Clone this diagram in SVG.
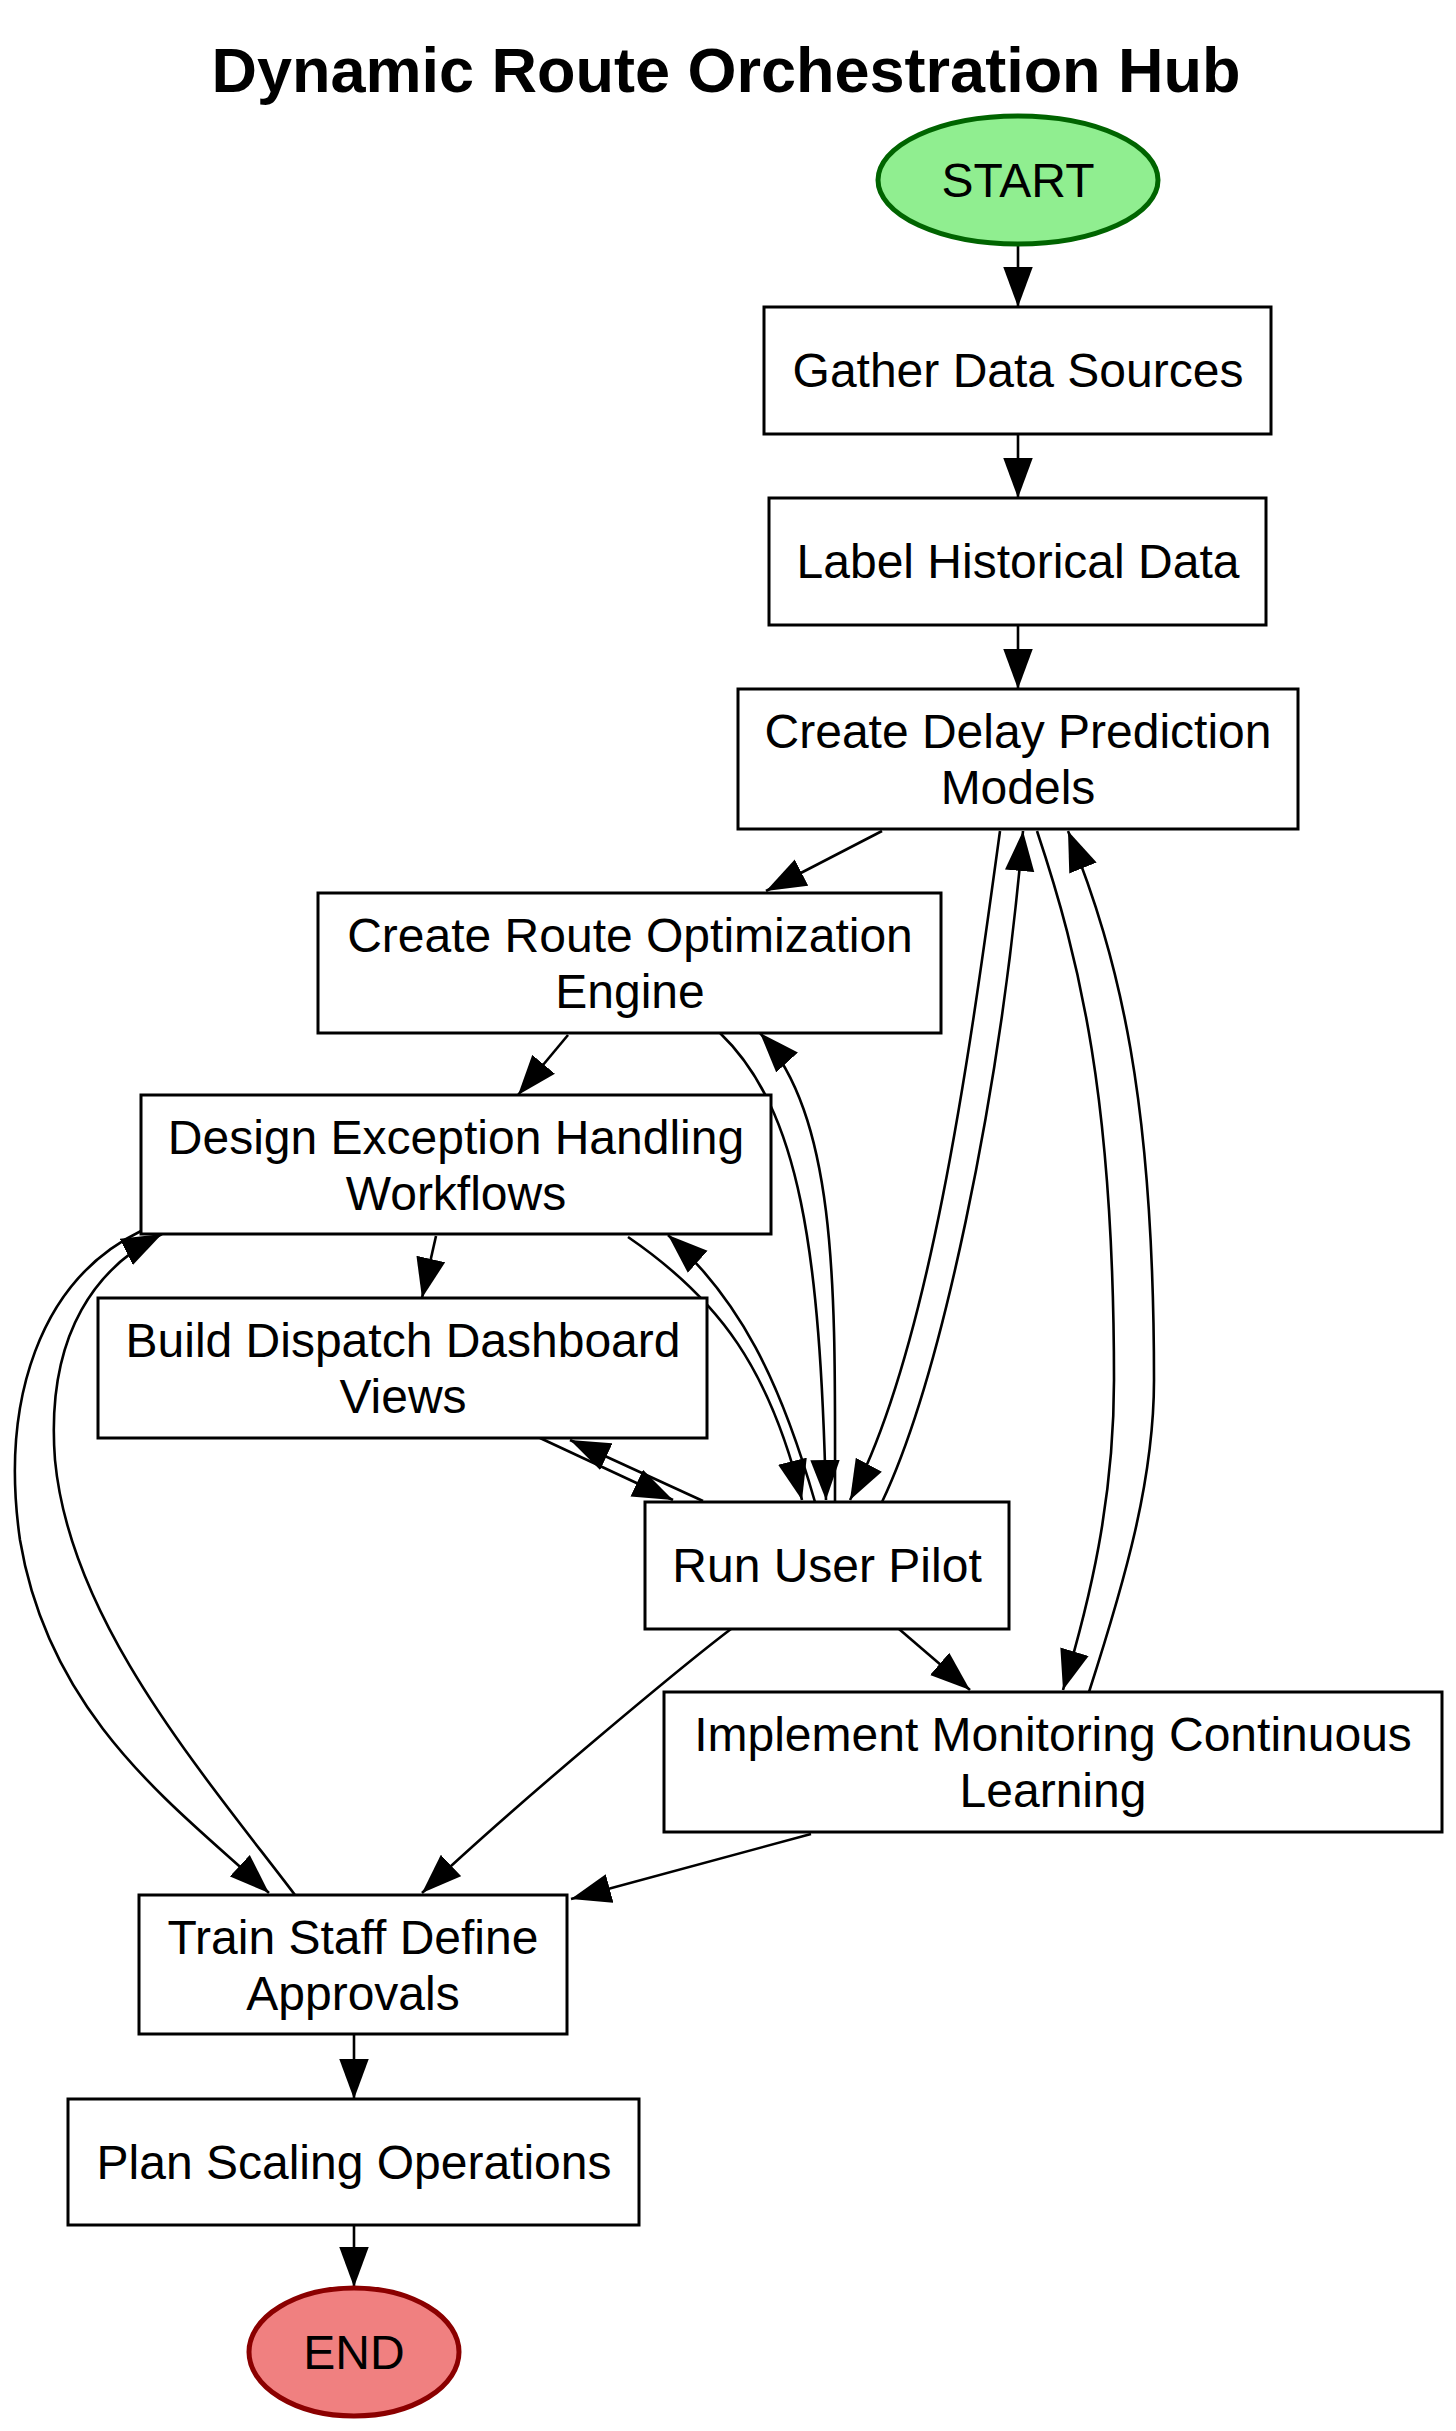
<svg xmlns="http://www.w3.org/2000/svg" width="1456" height="2431" viewBox="0 0 1456 2431">
<style>
.box{fill:#fff;stroke:#000;stroke-width:3}
.t{font-family:"Liberation Sans",Arial,sans-serif;font-size:48px;text-anchor:middle;fill:#000}
.e{fill:none;stroke:#000;stroke-width:2.6;marker-end:url(#a)}
</style>
<defs>
<marker id="a" markerUnits="userSpaceOnUse" markerWidth="40" markerHeight="30" viewBox="0 0 38 28" refX="38" refY="14" orient="auto">
<path d="M0,0 L38,14 L0,28 Z" fill="#000"/>
</marker>
</defs>
<rect width="1456" height="2431" fill="#fff"/>
<text x="726" y="92" style="font-family:'Liberation Sans',Arial,sans-serif;font-size:63px;font-weight:bold;text-anchor:middle">Dynamic Route Orchestration Hub</text>
<g id="edges">
<path class="e" d="M1018,245 L1018,307"/>
<path class="e" d="M1018,434 L1018,498"/>
<path class="e" d="M1018,625 L1018,689"/>
<path class="e" d="M882,831 L766,891"/>
<path class="e" d="M568,1035 L518,1095"/>
<path class="e" d="M436,1236 L422,1298"/>
<path class="e" d="M141,1231 C40,1280 0,1400 20,1540 C50,1720 180,1810 269,1893"/>
<path class="e" d="M295,1895 C200,1770 70,1620 55,1460 C45,1330 100,1265 162,1234"/>
<path class="e" d="M720,1033 C800,1110 820,1250 826,1500"/>
<path class="e" d="M835,1502 C835,1300 840,1120 760,1033"/>
<path class="e" d="M1000,831 C970,1050 930,1350 850,1500"/>
<path class="e" d="M882,1502 C940,1380 1000,1100 1023,831"/>
<path class="e" d="M1037,831 C1080,960 1114,1100 1114,1380 C1114,1500 1090,1600 1063,1690"/>
<path class="e" d="M1089,1692 C1125,1580 1154,1480 1154,1380 C1154,1100 1120,960 1068,831"/>
<path class="e" d="M628,1237 C720,1300 770,1370 802,1500"/>
<path class="e" d="M815,1502 C780,1380 740,1300 668,1235"/>
<path class="e" d="M540,1438 L673,1500"/>
<path class="e" d="M703,1501 L570,1440"/>
<path class="e" d="M899,1629 L970,1690"/>
<path class="e" d="M731,1629 C690,1660 520,1800 422,1893"/>
<path class="e" d="M811,1834 L571,1899"/>
<path class="e" d="M354,2034 L354,2099"/>
<path class="e" d="M354,2225 L354,2287"/>
</g>
<g id="start"><ellipse cx="1018" cy="180" rx="140" ry="64" fill="#90ee90" stroke="#006400" stroke-width="5"/><text class="t" x="1018" y="197">START</text></g>
<g id="gather"><rect class="box" x="764" y="307" width="507" height="127"/><text class="t" x="1018" y="387">Gather Data Sources</text></g>
<g id="label"><rect class="box" x="769" y="498" width="497" height="127"/><text class="t" x="1018" y="578">Label Historical Data</text></g>
<g id="delay"><rect class="box" x="738" y="689" width="560" height="140"/><text class="t" x="1018" y="748">Create Delay Prediction</text><text class="t" x="1018" y="804">Models</text></g>
<g id="route"><rect class="box" x="318" y="893" width="623" height="140"/><text class="t" x="630" y="952">Create Route Optimization</text><text class="t" x="630" y="1008">Engine</text></g>
<g id="design"><rect class="box" x="141" y="1095" width="630" height="139"/><text class="t" x="456" y="1154">Design Exception Handling</text><text class="t" x="456" y="1210">Workflows</text></g>
<g id="build"><rect class="box" x="98" y="1298" width="609" height="140"/><text class="t" x="403" y="1357">Build Dispatch Dashboard</text><text class="t" x="403" y="1413">Views</text></g>
<g id="run"><rect class="box" x="645" y="1502" width="364" height="127"/><text class="t" x="827" y="1582">Run User Pilot</text></g>
<g id="impl"><rect class="box" x="664" y="1692" width="778" height="140"/><text class="t" x="1053" y="1751">Implement Monitoring Continuous</text><text class="t" x="1053" y="1807">Learning</text></g>
<g id="train"><rect class="box" x="139" y="1895" width="428" height="139"/><text class="t" x="353" y="1954">Train Staff Define</text><text class="t" x="353" y="2010">Approvals</text></g>
<g id="plan"><rect class="box" x="68" y="2099" width="571" height="126"/><text class="t" x="354" y="2179">Plan Scaling Operations</text></g>
<g id="end"><ellipse cx="354" cy="2352" rx="105" ry="64" fill="#f08080" stroke="#8b0000" stroke-width="5"/><text class="t" x="354" y="2369">END</text></g>
</svg>
